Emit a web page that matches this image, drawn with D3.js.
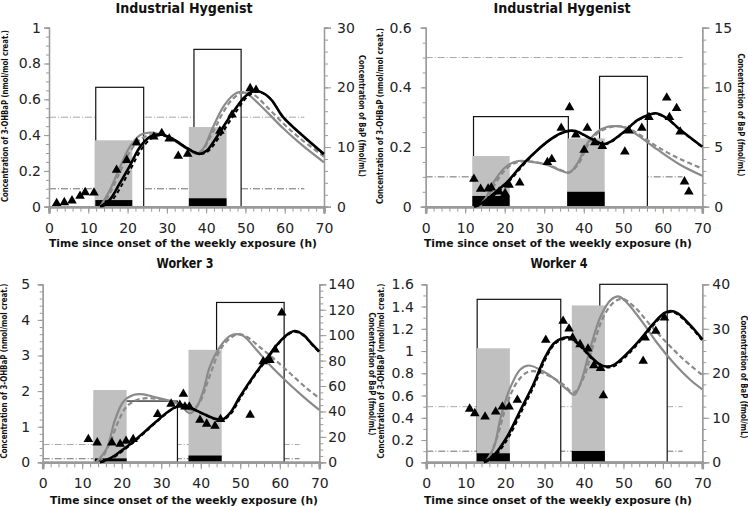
<!DOCTYPE html>
<html><head><meta charset="utf-8">
<script src="https://cdn.jsdelivr.net/npm/d3@7"></script>
<style>html,body{margin:0;padding:0;background:#fff;}svg{display:block;}</style>
</head><body>
<svg id="chart" width="748" height="507"></svg>
<script>
// ---------------- DATA ----------------
const panelTitles = ["Industrial Hygenist", "Industrial Hygenist", "Worker 3", "Worker 4"];
const xTicks = [0, 10, 20, 30, 40, 50, 60, 70];
const leftTicks = [[0,0.2,0.4,0.6,0.8,1],[0,0.2,0.4,0.6],[0,1,2,3,4,5],[0,0.2,0.4,0.6,0.8,1,1.2,1.4,1.6]];
const rightTicks = [[0,10,20,30],[0,5,10,15],[0,20,40,60,80,100,120,140],[0,10,20,30,40]];
const refLevels = [0.5, 0.1];

// Panel 1 (Industrial Hygenist, left)
const p1Boxes = [[11.9,24.1,0.667],[36.9,48.9,0.879]];
const p1GrayBars = [[11.6,21.2,0.371],[35.6,45.2,0.445]];
const p1BlackBars = [[11.8,21.2,0.037],[35.6,45.2,0.047]];
const p1Points = [[1.95,0.019],[3.9,0.024],[5.85,0.034],[7.9,0.06],[9.2,0.08],[11.45,0.078],[17.2,0.205],[19.8,0.26],[22.3,0.358],[26.7,0.391],[28.7,0.41],[30.6,0.38],[32.9,0.283],[35.3,0.294],[43.5,0.423],[46.6,0.514],[51.2,0.661],[52.7,0.652]];
const p1BlackSolid = [[13,0],[15.5,0.04],[18,0.13],[20.6,0.23],[23.2,0.335],[25.7,0.39],[28.3,0.405],[31.6,0.378],[35,0.328],[38.4,0.295],[40.1,0.312],[42.7,0.39],[46.9,0.53],[49.9,0.615],[52,0.645],[54,0.64],[56.5,0.6],[59.6,0.5],[63.9,0.41],[70,0.294]];
const p1BlackDash = [[13.5,0],[16,0.035],[18.5,0.12],[21,0.22],[23.5,0.32],[26,0.38],[28.5,0.4],[31.6,0.378],[35,0.33],[38.6,0.295],[40.5,0.31],[43.2,0.385],[47.3,0.52],[50.3,0.61],[52.3,0.64],[54,0.638],[56.5,0.6],[59.6,0.5],[63.9,0.41],[70,0.29]];
const p1GraySolid = [[13,0],[15.5,0.093],[18.1,0.223],[20.6,0.335],[23.2,0.4],[25.3,0.413],[28.3,0.405],[31.6,0.372],[35,0.326],[37.6,0.298],[39.3,0.326],[41.8,0.447],[44.4,0.559],[46.9,0.624],[48.6,0.642],[50.3,0.633],[53.7,0.568],[59.6,0.438],[63.9,0.354],[70,0.248]];
const p1GrayDash = [[13.5,0],[15.5,0.075],[18.1,0.195],[20.6,0.307],[23.2,0.376],[25.7,0.4],[28.3,0.404],[31.6,0.375],[35,0.328],[38,0.294],[41.8,0.42],[44.4,0.53],[46.9,0.605],[49.5,0.637],[52,0.628],[55.4,0.559],[59.6,0.466],[63.9,0.382],[70,0.28]];

// Panel 2 (Industrial Hygenist, right)
const p2Boxes = [[12.1,36.1,0.302],[44.0,56.1,0.437]];
const p2GrayBars = [[11.8,21.25,0.17],[35.8,45.3,0.229]];
const p2BlackBars = [[11.8,21.25,0.036],[35.8,45.3,0.05]];
const p2Points = [[12.2,0.093],[13.9,0.059],[15.8,0.06],[16.6,0.064],[18.6,0.05],[20.1,0.045],[21.1,0.073],[23.8,0.08],[30.8,0.149],[31.9,0.159],[34.3,0.264],[36.4,0.333],[38.0,0.241],[40.1,0.19],[40.9,0.264],[42.8,0.215],[44.7,0.203],[50.4,0.184],[51.4,0.255],[54.7,0.264],[56.5,0.3],[61.0,0.365],[61.7,0.3],[63.5,0.33],[64.4,0.251],[65.5,0.084],[66.6,0.05]];
const p2BlackSolid = [[12.2,0],[14.8,0.017],[17.3,0.045],[20.7,0.084],[24,0.134],[27.4,0.179],[30.8,0.218],[34.2,0.246],[36.7,0.255],[38.4,0.251],[41.7,0.229],[45.1,0.21],[46.8,0.218],[50.2,0.251],[53.6,0.29],[56.9,0.31],[58.2,0.313],[61.1,0.296],[64.5,0.257],[70,0.201]];
const p2BlackDash = [[12.6,0],[15.2,0.015],[17.6,0.042],[20.9,0.082],[24.2,0.132],[27.4,0.178],[30.8,0.217],[34.2,0.245],[36.8,0.254],[38.4,0.25],[41.7,0.228],[45.2,0.209],[46.9,0.217],[50.2,0.25],[53.6,0.289],[56.9,0.309],[58.2,0.312],[61.1,0.295],[64.5,0.256],[70,0.2]];
const p2GraySolid = [[13,0],[14.8,0.022],[17.3,0.084],[19.8,0.128],[22.3,0.149],[24,0.154],[27.4,0.149],[30.8,0.14],[34.2,0.121],[36.3,0.114],[38.4,0.145],[40.9,0.212],[43.4,0.251],[46,0.268],[48.1,0.27],[50.2,0.266],[53.6,0.24],[58.6,0.192],[64.5,0.14],[70,0.104]];
const p2GrayDash = [[13.3,0],[15,0.018],[17.5,0.075],[20,0.122],[22.5,0.146],[24.5,0.152],[27.4,0.15],[30.8,0.141],[34.2,0.123],[36.4,0.116],[38.6,0.142],[41,0.205],[43.6,0.247],[46.2,0.265],[48.5,0.27],[50.4,0.267],[53.6,0.246],[58.6,0.201],[64.5,0.159],[70,0.128]];

// Panel 3 (Worker 3)
const p3Boxes = [[13.1,34.1,1.72],[44.0,61.1,4.49]];
const p3GrayBars = [[12.8,21.25,2.03],[36.9,45.3,3.16]];
const p3BlackBars = [[13.2,21.25,0.11],[36.9,45.3,0.19]];
const p3Points = [[11.55,0.646],[13.8,0.552],[17.5,0.552],[19.6,0.515],[21.1,0.6],[22.9,0.646],[29.1,1.35],[32.5,1.64],[34.7,1.61],[35.6,1.92],[36,1.56],[37.1,1.56],[39.8,1.19],[41.5,1.08],[43.6,1.02],[45,1.21],[52.5,1.33],[55.8,2.83],[57.5,2.87],[58.8,3.16],[60.5,4.2]];
const p3BlackSolid = [[14.5,0],[17,0.11],[19.6,0.3],[22.9,0.58],[26.3,0.91],[29.7,1.24],[33.1,1.52],[35.6,1.61],[37.7,1.52],[40.7,1.36],[43.2,1.24],[45.3,1.19],[47.4,1.38],[49.9,1.84],[53.3,2.41],[56.7,2.92],[60,3.39],[62.6,3.64],[63.8,3.69],[66,3.58],[68,3.34],[70,3.11]];
const p3BlackDash = [[14.8,0],[17.3,0.1],[19.9,0.29],[23.1,0.57],[26.5,0.9],[29.8,1.23],[33.1,1.51],[35.6,1.6],[37.7,1.51],[40.7,1.35],[43.2,1.23],[45.4,1.18],[47.6,1.36],[50.1,1.82],[53.4,2.39],[56.8,2.9],[60,3.37],[62.6,3.62],[63.8,3.67],[66,3.56],[68,3.32],[70,3.09]];
const p3GraySolid = [[13.5,0],[16.2,0.39],[18.3,1.19],[20.4,1.7],[22.9,1.89],[25.5,1.91],[28,1.84],[31.4,1.75],[34.7,1.61],[37.3,1.38],[39,1.56],[40.7,2.03],[42.3,2.69],[44.9,3.25],[47.4,3.55],[49.1,3.6],[50.8,3.55],[54.1,3.16],[57.5,2.73],[61.7,2.27],[66,1.84],[70,1.47]];
const p3GrayDash = [[14.5,0],[17,0.53],[19.1,1.14],[21.2,1.56],[23.8,1.75],[26.3,1.8],[29.7,1.77],[33.1,1.7],[35.2,1.61],[37.7,1.47],[39.8,1.7],[41.9,2.31],[44.9,3.16],[47.4,3.48],[49.5,3.6],[51.6,3.53],[55,3.23],[58.4,2.92],[62.6,2.5],[66.8,2.08],[70,1.8]];

// Panel 4 (Worker 4)
const p4Boxes = [[12.9,34.1,1.465],[44.0,61.1,1.6]];
const p4GrayBars = [[12.8,21.2,1.025],[36.9,45.3,1.41]];
const p4BlackBars = [[12.8,21.2,0.081],[36.9,45.3,0.102]];
const p4Points = [[11.0,0.48],[12.3,0.44],[14.9,0.41],[17.6,0.455],[19.3,0.5],[21,0.5],[23.1,0.56],[30.3,1.1],[34.7,1.27],[36.2,1.2],[37.1,1.12],[39,1.06],[41,1.02],[42.5,0.87],[44.2,0.845],[44.9,0.6],[55.0,0.91],[55.5,1.12],[58.2,1.18],[60.4,1.3]];
const p4BlackSolid = [[14.6,0],[17.2,0.066],[20.5,0.23],[23.9,0.47],[27.3,0.71],[29.8,0.92],[32.4,1.07],[34.9,1.12],[36.6,1.12],[39.1,1.05],[41.7,0.95],[44.2,0.875],[45.9,0.86],[47.6,0.875],[51,0.98],[54.4,1.11],[57.7,1.25],[60.3,1.34],[61.9,1.36],[63.7,1.34],[67,1.23],[70,1.105]];
const p4BlackDash = [[14.9,0],[17.5,0.06],[20.8,0.22],[24.2,0.46],[27.5,0.7],[30,0.91],[32.5,1.06],[35,1.11],[36.6,1.11],[39.1,1.04],[41.7,0.94],[44.2,0.868],[46,0.853],[47.8,0.868],[51.2,0.97],[54.5,1.1],[57.8,1.24],[60.3,1.33],[61.9,1.35],[63.7,1.33],[67,1.22],[70,1.095]];
const p4GraySolid = [[15,0],[17.2,0.14],[18.9,0.41],[21.4,0.68],[23.9,0.836],[26,0.87],[29,0.83],[32.4,0.755],[35.8,0.65],[37.5,0.605],[39.1,0.71],[41.7,1.04],[44.2,1.31],[46.8,1.46],[48.9,1.49],[51,1.43],[54.4,1.28],[58.6,1.07],[62.8,0.89],[67,0.74],[70,0.656]];
const p4GrayDash = [[15.5,0],[18,0.23],[20.5,0.53],[23.1,0.725],[25.6,0.81],[28.2,0.815],[31.5,0.77],[34.9,0.695],[37.4,0.626],[40,0.77],[42.5,1.07],[45.1,1.32],[47.6,1.44],[49.7,1.47],[52.7,1.4],[56.9,1.23],[61.1,1.07],[65.4,0.92],[70,0.785]];

// --------------- LAYOUT ---------------
const panels = [
  {title: panelTitles[0], tx:184, ty:13, tLen:137, x0:49, x1:324, yb:206.7, yt:27.7, lMax:1, lTicks:leftTicks[0], lMinor:0.05, rMax:30, rTicks:rightTicks[0], rMinor:2, lGap:8, rGap:13,
   xtX:183, xtY:247, ltX:5, ltY:116, ltLen:172, rtX:362, rtY:116, rtLen:122, lTitle:"Concentration of 3-OHBaP (nmol/mol creat.)",
   boxes:p1Boxes, gray:p1GrayBars, black:p1BlackBars, points:p1Points, bs:p1BlackSolid, bd:p1BlackDash, gs:p1GraySolid, gd:p1GrayDash},
  {title: panelTitles[1], tx:562, ty:13, tLen:137, x0:425.7, x1:702.3, yb:206.7, yt:27.7, lMax:0.6, lTicks:leftTicks[1], lMinor:0.05, rMax:15, rTicks:rightTicks[1], rMinor:1, lGap:14, rGap:12,
   xtX:558, xtY:247, ltX:380, ltY:116, ltLen:176, rtX:741, rtY:115, rtLen:123, lTitle:"Concentration of 3-OHBaP  (nmol/mol creat.)",
   boxes:p2Boxes, gray:p2GrayBars, black:p2BlackBars, points:p2Points, bs:p2BlackSolid, bd:p2BlackDash, gs:p2GraySolid, gd:p2GrayDash},
  {title: panelTitles[2], tx:185, ty:268, tLen:57, x0:42.7, x1:319.3, yb:462.3, yt:284.3, lMax:5, lTicks:leftTicks[2], lMinor:0.2, rMax:140, rTicks:rightTicks[2], rMinor:5, lGap:12.5, rGap:9,
   xtX:184, xtY:504, ltX:4.5, ltY:371, ltLen:175, rtX:372, rtY:374, rtLen:123, lTitle:"Concentration of 3-OHBaP (nmol/mol creat.)",
   boxes:p3Boxes, gray:p3GrayBars, black:p3BlackBars, points:p3Points, bs:p3BlackSolid, bd:p3BlackDash, gs:p3GraySolid, gd:p3GrayDash},
  {title: panelTitles[3], tx:559, ty:268, tLen:57, x0:426.3, x1:702.3, yb:462.3, yt:284.3, lMax:1.6, lTicks:leftTicks[3], lMinor:0.1, rMax:40, rTicks:rightTicks[3], rMinor:2.5, lGap:12.5, rGap:10,
   xtX:558, xtY:504, ltX:381, ltY:371, ltLen:175, rtX:744, rtY:377, rtLen:123, lTitle:"Concentration of 3-OHBaP  (nmol/mol creat.)",
   boxes:p4Boxes, gray:p4GrayBars, black:p4BlackBars, points:p4Points, bs:p4BlackSolid, bd:p4BlackDash, gs:p4GraySolid, gd:p4GrayDash}
];

const FONT = "'DejaVu Sans', Verdana, sans-serif";
const AXC = "#9a9a9a";
const svg = d3.select("#chart");

function fmt(d){ return d === 0 ? "0" : String(+d.toFixed(2)); }

panels.forEach(p => {
  const g = svg.append("g");
  const x = d3.scaleLinear().domain([0,70]).range([p.x0, p.x1]);
  const yL = d3.scaleLinear().domain([0,p.lMax]).range([p.yb, p.yt]);
  const yR = d3.scaleLinear().domain([0,p.rMax]).range([p.yb, p.yt]);

  // reference dash-dot lines
  g.selectAll("line.ref").data(refLevels).join("line")
    .attr("x1", x(0)).attr("x2", x(65))
    .attr("y1", d => yL(d)).attr("y2", d => yL(d))
    .attr("stroke", (d,i) => i === 0 ? "#a8a8a8" : "#6e6e6e")
    .attr("stroke-width", 1).attr("stroke-dasharray", "7,2,1,2");

  // boxes
  g.selectAll("rect.box").data(p.boxes).join("rect")
    .attr("x", d => x(d[0])).attr("width", d => x(d[1]) - x(d[0]))
    .attr("y", d => yL(d[2])).attr("height", d => yL(0) - yL(d[2]))
    .attr("fill", "#fff").attr("stroke", "#111").attr("stroke-width", 1.2);

  // gray bars
  g.selectAll("rect.gray").data(p.gray).join("rect")
    .attr("x", d => x(d[0])).attr("width", d => x(d[1]) - x(d[0]))
    .attr("y", d => yL(d[2])).attr("height", d => yL(0) - yL(d[2]))
    .attr("fill", "#c0c0c0");

  // black bars
  g.selectAll("rect.blk").data(p.black).join("rect")
    .attr("x", d => x(d[0])).attr("width", d => x(d[1]) - x(d[0]))
    .attr("y", d => yL(d[2])).attr("height", d => yL(0) - yL(d[2]))
    .attr("fill", "#000");

  // X axis
  const xa = g.append("g").attr("transform", `translate(0,${p.yb})`)
    .call(d3.axisBottom(x).tickValues(xTicks).tickSize(7).tickPadding(9).tickFormat(d3.format("d")));
  xa.append("g").call(d3.axisBottom(x).tickValues(d3.range(0,71,2)).tickSize(5).tickFormat(""));
  xa.selectAll("path.domain").attr("stroke", AXC).attr("stroke-width", 2.5);
  xa.selectAll("line").attr("stroke", AXC);
  xa.selectAll("text").attr("font-family", FONT).attr("font-size", 14).attr("fill", "#222");

  // left axis
  const la = g.append("g").attr("transform", `translate(${p.x0},0)`)
    .call(d3.axisLeft(yL).tickValues(p.lTicks).tickSize(5).tickPadding(p.lGap - 5).tickFormat(fmt));
  la.append("g").call(d3.axisLeft(yL).tickValues(d3.range(0, p.lMax + 1e-9, p.lMinor)).tickSize(3).tickFormat(""));
  la.selectAll("path.domain").attr("stroke", AXC).attr("stroke-width", 1.3);
  la.selectAll("line").attr("stroke", AXC);
  la.selectAll("text").attr("font-family", FONT).attr("font-size", 14).attr("fill", "#222");

  // right axis
  const ra = g.append("g").attr("transform", `translate(${p.x1},0)`)
    .call(d3.axisRight(yR).tickValues(p.rTicks).tickSize(7).tickPadding(p.rGap - 7).tickFormat(d3.format("d")));
  ra.append("g").call(d3.axisRight(yR).tickValues(d3.range(0, p.rMax + 1e-9, p.rMinor)).tickSize(4).tickFormat(""));
  ra.selectAll("path.domain").attr("stroke", AXC).attr("stroke-width", 1.3);
  ra.selectAll("line").attr("stroke", AXC);
  ra.selectAll("text").attr("font-family", FONT).attr("font-size", 14).attr("fill", "#222");

  // curves
  const line = d3.line().x(d => x(d[0])).y(d => yL(d[1])).curve(d3.curveCatmullRom.alpha(0.5));
  g.append("path").datum(p.gs).attr("d", line).attr("fill","none").attr("stroke","#8a8a8a").attr("stroke-width",2.2);
  g.append("path").datum(p.gd).attr("d", line).attr("fill","none").attr("stroke","#8a8a8a").attr("stroke-width",2.2).attr("stroke-dasharray","5,3");
  g.append("path").datum(p.bd).attr("d", line).attr("fill","none").attr("stroke","#000").attr("stroke-width",2).attr("stroke-dasharray","4,3");
  g.append("path").datum(p.bs).attr("d", line).attr("fill","none").attr("stroke","#000").attr("stroke-width",2.6);

  // points
  g.selectAll("path.pt").data(p.points).join("path")
    .attr("d", d3.symbol(d3.symbolTriangle, 40))
    .attr("transform", d => `translate(${x(d[0])},${yL(d[1])})`)
    .attr("fill", "#000");

  // titles
  g.append("text").attr("x", p.tx).attr("y", p.ty).attr("text-anchor","middle")
    .attr("font-family", FONT).attr("font-weight","bold").attr("font-size", 14).attr("fill","#111")
    .attr("textLength", p.tLen).attr("lengthAdjust","spacingAndGlyphs")
    .text(p.title);
  g.append("text").attr("x", p.xtX).attr("y", p.xtY).attr("text-anchor","middle")
    .attr("font-family", FONT).attr("font-weight","bold").attr("font-size", 11).attr("fill","#111")
    .attr("textLength", 268).attr("lengthAdjust","spacingAndGlyphs")
    .text("Time since onset of the weekly exposure (h)");
  g.append("text").attr("transform", `translate(${p.ltX},${p.ltY}) rotate(-90)`).attr("text-anchor","middle").attr("dy","0.35em")
    .attr("font-family", FONT).attr("font-weight","bold").attr("font-size", 8).attr("fill","#111")
    .attr("textLength", p.ltLen).attr("lengthAdjust","spacingAndGlyphs")
    .text(p.lTitle);
  g.append("text").attr("transform", `translate(${p.rtX},${p.rtY}) rotate(90)`).attr("text-anchor","middle").attr("dy","0.35em")
    .attr("font-family", FONT).attr("font-weight","bold").attr("font-size", 8.5).attr("fill","#111")
    .attr("textLength", p.rtLen).attr("lengthAdjust","spacingAndGlyphs")
    .text("Concentration of BaP (fmol/mL)");
});
</script>
</body></html>
